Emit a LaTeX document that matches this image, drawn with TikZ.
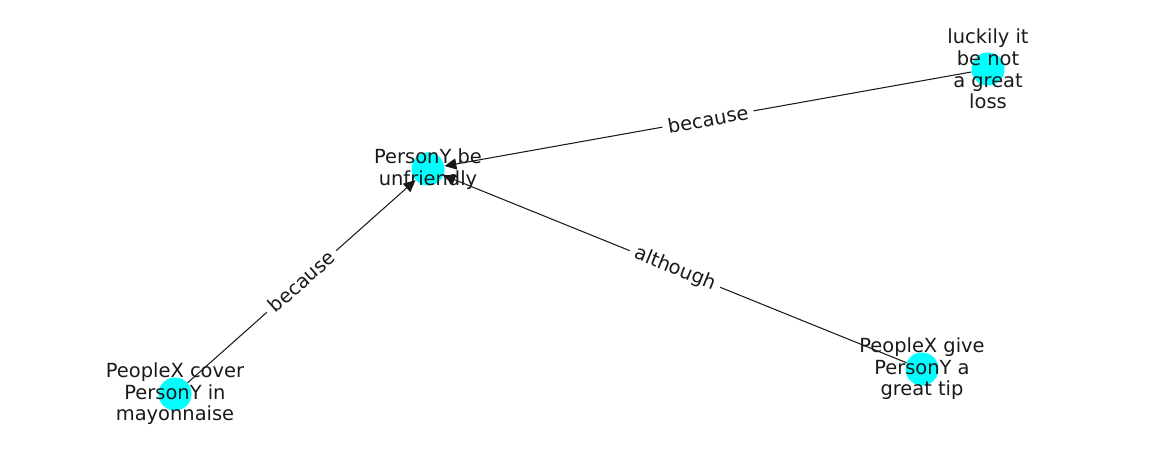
\documentclass[tikz,border=0pt]{standalone}
\usepackage{fontspec}
\setmainfont{DejaVu Sans}
\usetikzlibrary{arrows.meta}
\definecolor{eventcyan}{RGB}{0,255,255}

\begin{document}
\begin{tikzpicture}[x=0.72pt, y=0.72pt, font=\fontsize{14}{15.5}\selectfont,
  dot/.style={circle, fill=eventcyan, minimum size=23.8pt, inner sep=0pt},
  txt/.style={align=center, text=black!90},
  rel/.style={-{Triangle[length=8.5pt,width=8pt]}, black!90, line width=0.75pt},
  lbl/.style={sloped, midway, fill=white, text=black!90, rounded corners=2pt, inner sep=4pt}]
  \useasboundingbox (0,0) rectangle (1162,462);
  % Events
  \node[dot] (unfr) at (428,293) {};
  \node[dot] (luck) at (988,393) {};
  \node[dot] (mayo) at (175,68) {};
  \node[dot] (tip)  at (922,93) {};
  % Relations
  \draw[rel] (luck) -- (unfr) node[lbl] {because};
  \draw[rel] (mayo) -- (unfr) node[lbl] {because};
  \draw[rel] (tip) -- (unfr) node[lbl] {although};
  % Event texts
  \node[txt] (unfrtxt) at (unfr) {PersonY be\\unfriendly};
  \node[txt] (lucktxt) at (luck) {luckily it\\be not\\a great\\loss};
  \node[txt] (mayotxt) at (mayo) {PeopleX cover\\PersonY in\\mayonnaise};
  \node[txt] (tiptxt)  at (tip)  {PeopleX give\\PersonY a\\great tip};
\end{tikzpicture}
\end{document}
